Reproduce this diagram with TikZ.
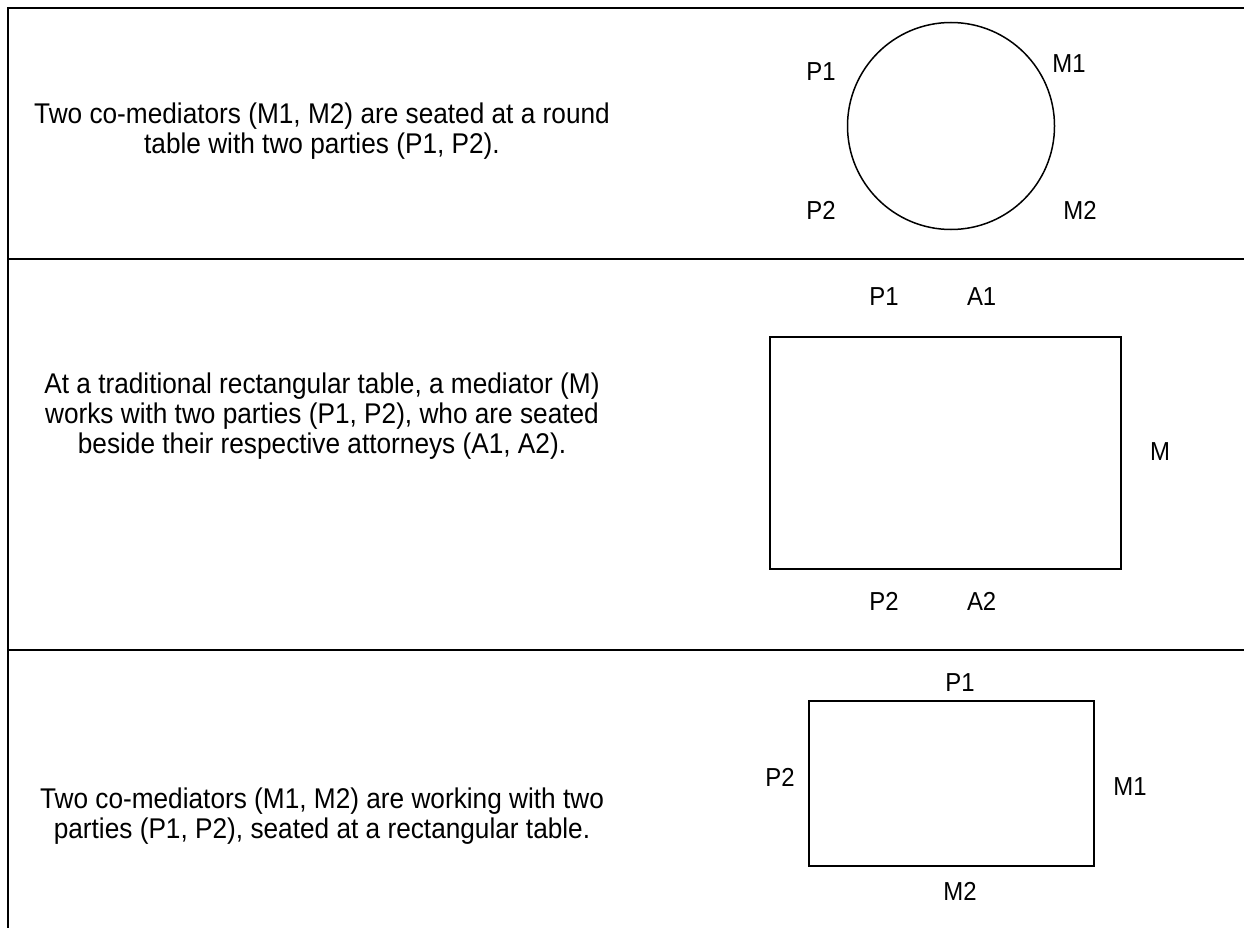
\documentclass[tikz,border=0pt]{standalone}
\usepackage{fontspec}
\setmainfont{Liberation Sans}[FakeStretch=0.92]
\usetikzlibrary{positioning}

\begin{document}
\begin{tikzpicture}[x=1pt,y=-1pt,
  divider/.style = {line width=2pt},
  tbl/.style = {draw, line width=1.5pt, inner sep=0pt},
  note/.style = {align=center, font=\fontsize{28.5}{30}\selectfont},
  seat/.style = {font=\fontsize{26}{28}\selectfont, inner sep=0pt}]
\useasboundingbox (0,0) rectangle (1244,928);
\draw[divider] (1244,8) -- (8,8) -- (8,928);
\draw[divider] (8,259) -- (1244,259);
\draw[divider] (8,650) -- (1244,650);

% round table
\node[note] (n1) at (322,131) {Two co-mediators (M1, M2) are seated at a round\\table with two parties (P1, P2).};
\node[tbl, circle, minimum size=207pt] (t1) at (951,126) {};
\node[seat] (p1a) at (821,72) {P1};
\node[seat] (m1a) at (1069,64) {M1};
\node[seat] (p2a) at (821,210) {P2};
\node[seat] (m2a) at (1080,210) {M2};

% rectangular table, one mediator
\node[note] (n2) at (322,416) {At a traditional rectangular table, a mediator (M)\\works with two parties (P1, P2), who are seated\\beside their respective attorneys (A1, A2).};
\node[tbl, minimum width=351pt, minimum height=232pt] (t2) at (945.5,453) {};
\node[seat] (p1b) at (884,297) {P1};
\node[seat] (a1b) [right=68pt of p1b] {A1};
\node[seat] (mb) at (1160,452) {M};
\node[seat] (p2b) at (884,601) {P2};
\node[seat] (a2b) [right=68pt of p2b] {A2};

% rectangular table, two mediators
\node[note] (n3) at (322,816) {Two co-mediators (M1, M2) are working with two\\parties (P1, P2), seated at a rectangular table.};
\node[tbl, minimum width=285pt, minimum height=165pt] (t3) at (951.5,783.5) {};
\node[seat] (p1c) at (960,683) {P1};
\node[seat] (p2c) at (780,777) {P2};
\node[seat] (m1c) at (1130,787) {M1};
\node[seat] (m2c) at (960,891) {M2};
\end{tikzpicture}
\end{document}
